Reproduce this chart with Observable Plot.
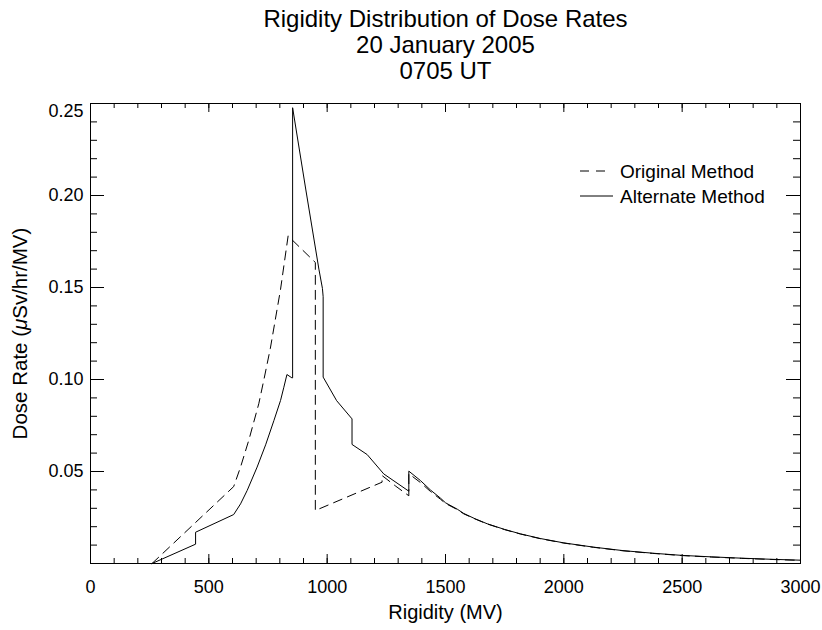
<!DOCTYPE html>
<html>
<head>
<meta charset="utf-8">
<script src="https://cdn.jsdelivr.net/npm/d3@7"></script>
<script src="https://cdn.jsdelivr.net/npm/@observablehq/plot@0.6"></script>
<style>
  body { margin: 0; background: #fff; }
  #chart { width: 822px; height: 630px; }
</style>
</head>
<body>
<div id="chart"></div>
<script>
// ---- Data ----
const titleLines = ["Rigidity Distribution of Dose Rates", "20 January 2005", "0705 UT"];
const xLabel = "Rigidity (MV)";
const yLabel = "Dose Rate (μSv/hr/MV)";
const seriesNames = ["Original Method", "Alternate Method"];
const xTickValues = [0, 500, 1000, 1500, 2000, 2500, 3000];
const yTickValues = [0.05, 0.10, 0.15, 0.20, 0.25];

// Alternate Method (solid)
const altRigidity = [260, 444, 444, 605, 634, 662, 704, 740, 775, 803, 817, 830, 851, 854, 854, 910, 965, 980, 983, 983,
  1040, 1105, 1105, 1169, 1239, 1345, 1345, 1394, 1436, 1479, 1500, 1550, 1577, 1625, 1676, 1750, 1817, 1900,
  2000, 2125, 2250, 2375, 2500, 2625, 2750, 2875, 3000];
const altDose = [0, 0.0105, 0.0170, 0.0266, 0.0324, 0.0397, 0.0524, 0.0645, 0.0777, 0.0886, 0.0958, 0.1027, 0.1009, 0.1009, 0.2477, 0.2030, 0.1600, 0.1495, 0.1450, 0.1013,
  0.0885, 0.0786, 0.0647, 0.0592, 0.0487, 0.0393, 0.0502, 0.0451, 0.0400, 0.0355, 0.0330, 0.0295, 0.0272, 0.0243, 0.0216, 0.0185, 0.0161, 0.0136,
  0.0112, 0.0089, 0.0070, 0.0056, 0.0044, 0.0036, 0.0029, 0.0023, 0.0018];

// Original Method (dashed)
const origRigidity = [260, 605, 634, 670, 711, 732, 760, 803, 835, 950, 950, 1232, 1232, 1290, 1345, 1345, 1394, 1436, 1479, 1500,
  1550, 1577, 1625, 1676, 1750, 1817, 1900, 2000, 2125, 2250, 2375, 2500, 2625, 2750, 2875, 3000];
const origDose = [0, 0.0418, 0.0524, 0.0675, 0.0868, 0.0995, 0.1170, 0.1490, 0.1780, 0.1636, 0.0288, 0.0442, 0.0478, 0.0420, 0.0368, 0.0488, 0.0440, 0.0392, 0.0349, 0.0326,
  0.0293, 0.0270, 0.0242, 0.0215, 0.0184, 0.0160, 0.0135, 0.0111, 0.0088, 0.0069, 0.0055, 0.0043, 0.0035, 0.0028, 0.0022, 0.0017];

// ---- Build tables ----
const alt = altRigidity.map((r, i) => ({r, v: altDose[i]}));
const orig = origRigidity.map((r, i) => ({r, v: origDose[i]}));
const xMinor = d3.range(1, 30).map(i => i * 100);
const yMinor = d3.range(1, 25).map(i => i / 100);

const W = 822, H = 630, mL = 90, mR = 22, mT = 103, mB = 67;
const innerW = W - mL - mR, innerH = H - mT - mB;
const font = "'Liberation Sans', Arial, Helvetica, sans-serif";

const plot = Plot.plot({
  width: W, height: H,
  marginLeft: mL, marginRight: mR, marginTop: mT, marginBottom: mB,
  style: {fontFamily: font, fontSize: "18px", color: "#000", background: "#fff"},
  x: {domain: [0, 3000], axis: null},
  y: {domain: [0, 0.25], axis: null},
  marks: [
    // inward IDL-style ticks on all four sides
    Plot.tickX(xMinor, {x: d => d, insetTop: innerH - 5, stroke: "#000"}),
    Plot.tickX(xTickValues, {x: d => d, insetTop: innerH - 9, stroke: "#000"}),
    Plot.tickX(xMinor, {x: d => d, insetBottom: innerH - 5, stroke: "#000"}),
    Plot.tickX(xTickValues, {x: d => d, insetBottom: innerH - 9, stroke: "#000"}),
    Plot.tickY(yMinor, {y: d => d, insetRight: innerW - 7, stroke: "#000"}),
    Plot.tickY(yTickValues, {y: d => d, insetRight: innerW - 14, stroke: "#000"}),
    Plot.tickY(yMinor, {y: d => d, insetLeft: innerW - 7, stroke: "#000"}),
    Plot.tickY(yTickValues, {y: d => d, insetLeft: innerW - 14, stroke: "#000"}),
    Plot.frame({stroke: "#000", strokeWidth: 1}),
    Plot.axisX(xTickValues, {tickSize: 0, tickPadding: 17, fontSize: 18, label: null, tickFormat: d => String(d)}),
    Plot.axisY(yTickValues.slice(0, 4), {tickSize: 0, tickPadding: 7, fontSize: 18, label: null, tickFormat: d3.format(".2f")}),
    Plot.axisY(yTickValues.slice(4), {tickSize: 0, tickPadding: 7, fontSize: 18, label: null, dy: 8, tickFormat: d3.format(".2f")}),
    Plot.line(orig, {x: "r", y: "v", stroke: "#000", strokeWidth: 1, strokeDasharray: "9,6"}),
    Plot.line(alt, {x: "r", y: "v", stroke: "#000", strokeWidth: 1}),
    Plot.text([titleLines.join("\n")], {frameAnchor: "top", lineAnchor: "top", textAnchor: "middle", dy: -95, fontSize: 24, lineHeight: 1.09, fill: "#000"}),
    Plot.text([xLabel], {frameAnchor: "bottom", textAnchor: "middle", dy: 55, fontSize: 20, fill: "#000"}),
    Plot.text([yLabel], {frameAnchor: "left", textAnchor: "middle", dx: -70, rotate: -90, fontSize: 20.5, fill: "#000"})
  ]
});

document.getElementById("chart").appendChild(plot);

// italic mu in the y label
d3.select(plot).selectAll("text").filter(function() { return this.textContent === yLabel; }).each(function() {
  const t = d3.select(this);
  const parts = yLabel.split("μ");
  t.text(null);
  t.append("tspan").text(parts[0]);
  t.append("tspan").attr("font-style", "italic").text("μ");
  t.append("tspan").text(parts[1]);
});

// legend (top right inside the frame)
const lg = d3.select(plot).append("g")
  .attr("font-family", font).attr("font-size", 19).attr("fill", "#000").attr("text-anchor", "start");
const legendDash = ["9,7", null];
const legendY = [171, 196];
seriesNames.forEach((name, i) => {
  const line = lg.append("line")
    .attr("x1", 580).attr("x2", i === 0 ? 606 : 613)
    .attr("y1", legendY[i]).attr("y2", legendY[i])
    .attr("stroke", "#000").attr("stroke-width", 1);
  if (legendDash[i]) line.attr("stroke-dasharray", legendDash[i]);
  lg.append("text").attr("x", 620).attr("y", legendY[i]).attr("dy", "0.35em").text(name);
});
</script>
</body>
</html>
